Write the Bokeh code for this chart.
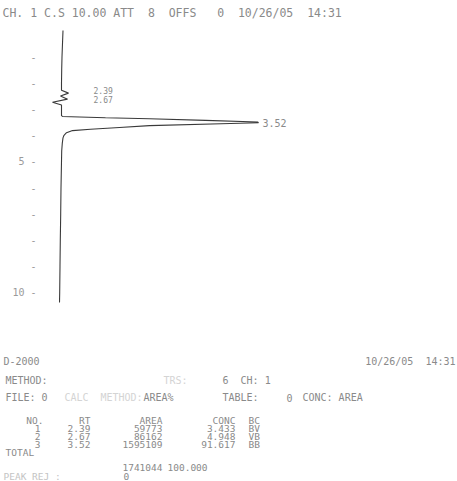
from bokeh.plotting import figure
from bokeh.models import Range1d
from bokeh.embed import file_html
from bokeh.resources import INLINE
from bokeh.core.properties import value

# ---------------- data ----------------
time_min = [0.00, 0.50, 1.00, 1.50, 2.00, 2.28, 2.39, 2.50, 2.62, 2.74, 2.84,
            3.25, 3.28, 3.33, 3.37, 3.43, 3.49, 3.52, 3.55, 3.63, 3.70, 3.77,
            3.82, 3.90, 4.00, 4.10, 4.30, 4.60, 5.00, 6.00, 7.00, 8.00, 9.00,
            10.00, 10.38]
signal = [2.5, 2.0, 1.5, 1.2, 1.0, 1.0, 8.0, 0.0, 7.0, -8.0, 1.0,
          1.0, 2.0, 45.0, 89.0, 145.0, 197.0, 198.0, 170.0, 89.0, 59.0, 30.0,
          12.0, 6.0, 3.5, 2.5, 1.8, 1.2, 1.0, 0.5, 0.2, -0.2, -0.5,
          -0.8, -1.0]

peak_no = [1, 2, 3]
peak_rt = [2.39, 2.67, 3.52]
peak_area = [59773, 86162, 1595109]
peak_conc = [3.433, 4.948, 91.617]
peak_bc = ["BV", "VB", "BB"]
total_area = 1741044
total_conc = 100.000

time_ticks = [1, 2, 3, 4, 5, 6, 7, 8, 9, 10]
tick_labels = ["-", "-", "-", "-", "5 -", "-", "-", "-", "-", "10 -"]

title_text = "CH. 1 C.S 10.00 ATT  8  OFFS   0  10/26/05  14:31"
# --------------------------------------------------------------

NB = "\u00a0"


def keep_spaces(s):
    return s.replace(" ", NB)


FONT = value("DejaVu Sans Mono")
TXT = "#8a8a8a"
FAINT = "#d4d4d4"
TRACE = "#3a3a3a"

W, H = 457, 481
# chart scales: signal -> x (1 unit per px, baseline at x=60),
# time -> y (26.2 px per minute, t=0 at y=30, increasing downward)
X0, PX_PER_UNIT = 60.0, 1.0
Y0, PX_PER_MIN = 30.0, 26.2

p = figure(width=W, height=H, output_backend="svg", toolbar_location=None,
           x_range=Range1d(-X0 / PX_PER_UNIT, (W - X0) / PX_PER_UNIT),
           y_range=Range1d((H - Y0) / PX_PER_MIN, -Y0 / PX_PER_MIN),
           x_axis_location=None, y_axis_location=None, min_border=0)
p.outline_line_color = None
p.xgrid.visible = False
p.ygrid.visible = False
p.background_fill_color = "white"
p.border_fill_color = "white"

# page-pixel ranges for the printed texts
p.extra_x_ranges = {"px": Range1d(0, W)}
p.extra_y_ranges = {"py": Range1d(H, 0)}

# time tick marks / labels on the left
p.text(x=[-24] * len(time_ticks), y=time_ticks, text=tick_labels,
       text_font=FONT, text_font_size="10px", text_color="#9a9a9a",
       text_baseline="middle", text_align="right")

# chromatogram trace
p.line(signal, time_min, line_color=TRACE, line_width=1.1)

# retention time labels
p.text(x=[33, 33], y=[peak_rt[0] - 0.1, peak_rt[1] - 0.04],
       text=[f"{r:.2f}" for r in peak_rt[:2]], text_font=FONT,
       text_font_size="8px", text_color=TXT, text_baseline="middle",
       text_align="left")
p.text(x=[max(signal) + 4], y=[peak_rt[2]], text=[f"{peak_rt[2]:.2f}"],
       text_font=FONT, text_font_size="10px", text_color=TXT,
       text_baseline="middle", text_align="left")


def put(x, y, s, color=TXT, align="left", size="10px"):
    p.text(x=[x], y=[y], text=[keep_spaces(s)], text_font=FONT,
           text_font_size=size, text_color=color, text_baseline="middle",
           text_align=align, x_range_name="px", y_range_name="py")


put(2, 12, title_text, size="11.5px")

put(3, 361, "D-2000")
put(455, 361, "10/26/05  14:31", align="right")
put(5, 380, "METHOD:")
put(163, 380, "TRS:", color=FAINT)
put(222, 380, "6  CH: 1")
put(5, 397, "FILE: 0")
put(64, 397, "CALC", color=FAINT)
put(100, 397, "METHOD:", color=FAINT)
put(143, 397, "AREA%")
put(222, 397, "TABLE:")
put(286, 397, "0")
put(302, 397, "CONC: AREA")

TS = "9.5px"
row_y = [428, 436, 444]
put(43, 420, "NO.", align="right", size=TS)
put(90, 420, "RT", align="right", size=TS)
put(162, 420, "AREA", align="right", size=TS)
put(235, 420, "CONC", align="right", size=TS)
put(248, 420, "BC", size=TS)
for i in range(len(peak_no)):
    y = row_y[i]
    put(40, y, str(peak_no[i]), align="right", size=TS)
    put(90, y, f"{peak_rt[i]:.2f}", align="right", size=TS)
    put(162, y, str(peak_area[i]), align="right", size=TS)
    put(235, y, f"{peak_conc[i]:.3f}", align="right", size=TS)
    put(248, y, peak_bc[i], size=TS)
put(5, 452, "TOTAL", size=TS)
put(162, 467, str(total_area), align="right", size=TS)
put(167, 467, f"{total_conc:.3f}", size=TS)
put(3, 476, "PEAK REJ :", color="#c4c4c4", size=TS)
put(123, 476, "0", size=TS)

open("out.html", "w").write(file_html(p, INLINE))
